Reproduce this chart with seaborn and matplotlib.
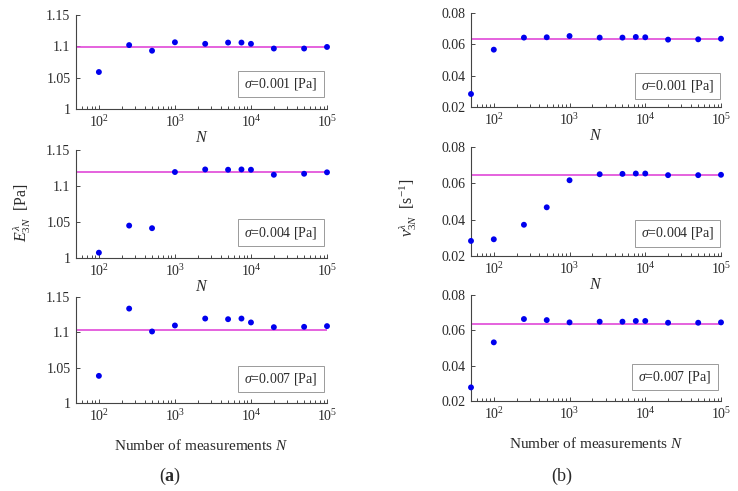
import numpy as np
import pandas as pd
import matplotlib
matplotlib.use("Agg")
import matplotlib.pyplot as plt
import seaborn as sns
from matplotlib.ticker import LogLocator, FixedLocator, NullFormatter
from matplotlib.patches import Rectangle

# ---------------- data ----------------
N_E = [100, 250, 500, 1000, 2500, 5000, 7500, 10000, 20000, 50000, 100000]
E_s001 = [1.059, 1.102, 1.093, 1.1065, 1.104, 1.106, 1.106, 1.104, 1.0965, 1.0965, 1.099]
E_s004 = [1.0074, 1.045, 1.0414, 1.1194, 1.123, 1.1226, 1.123, 1.1226, 1.1156, 1.117, 1.119]
E_s007 = [1.0384, 1.1336, 1.1012, 1.1097, 1.1195, 1.1186, 1.1195, 1.114, 1.1073, 1.1078, 1.1088]
E_ref = [1.099, 1.119, 1.1036]

N_v = [50, 100, 250, 500, 1000, 2500, 5000, 7500, 10000, 20000, 50000, 100000]
v_s001 = [0.0283, 0.0566, 0.0643, 0.0645, 0.0653, 0.0643, 0.0643, 0.0647, 0.0645, 0.0630, 0.0632, 0.0636]
v_s004 = [0.0283, 0.0292, 0.0372, 0.0468, 0.0617, 0.0650, 0.0652, 0.0654, 0.0654, 0.0645, 0.0645, 0.0647]
v_s007 = [0.0277, 0.0532, 0.0664, 0.0658, 0.0645, 0.0649, 0.0649, 0.0653, 0.0653, 0.0643, 0.0643, 0.0645]
v_ref = [0.0636, 0.0647, 0.0636]

sigmas = ["0.001", "0.004", "0.007"]
E_ticks = [1.0, 1.05, 1.1, 1.15]
E_ticklabels = ["1", "1.05", "1.1", "1.15"]
v_ticks = [0.02, 0.04, 0.06, 0.08]
v_ticklabels = ["0.02", "0.04", "0.06", "0.08"]

# ---------------- style ----------------
sns.set_style("ticks")
plt.rcParams["font.family"] = ["Liberation Serif", "DejaVu Serif"]
plt.rcParams["mathtext.fontset"] = "custom"
plt.rcParams["mathtext.rm"] = "Liberation Serif"
plt.rcParams["mathtext.it"] = "Liberation Serif:italic"
plt.rcParams["mathtext.bf"] = "Liberation Serif:bold"
TXT = "#2a2a2a"
plt.rcParams["text.color"] = TXT
plt.rcParams["axes.labelcolor"] = TXT
plt.rcParams["xtick.color"] = TXT
plt.rcParams["ytick.color"] = TXT
plt.rcParams["axes.edgecolor"] = "#444444"

W, H = 738, 491
fig = plt.figure(figsize=(W / 100, H / 100), dpi=100)

def frac(x0, x1, ytop, ybot):
    return [x0 / W, 1 - ybot / H, (x1 - x0) / W, (ybot - ytop) / H]

left_rows = [(15, 109), (150, 258), (297, 403)]
right_rows = [(13, 107), (147, 256), (295, 401)]
left_boxes = [(0.645, 0.128, 0.343, 0.276), (0.645, 0.111, 0.343, 0.25), (0.645, 0.104, 0.343, 0.245)]
right_boxes = [(0.656, 0.085, 0.34, 0.277), (0.656, 0.083, 0.34, 0.247), (0.644, 0.104, 0.344, 0.245)]

LINE_C = "#e048d8"
DOT_C = "#0000ee"

def style_axis(ax, ticks, ticklabels, ylim):
    ax.set_xscale("log")
    ax.set_xlim(50, 1e5)
    ax.set_ylim(*ylim)
    ax.set_xticks([1e2, 1e3, 1e4, 1e5])
    ax.set_xticklabels([r"$10^2$", r"$10^3$", r"$10^4$", r"$10^5$"])
    ax.xaxis.set_minor_locator(LogLocator(base=10, subs=np.arange(2, 10)))
    ax.xaxis.set_minor_formatter(NullFormatter())
    ax.yaxis.set_major_locator(FixedLocator(ticks))
    ax.set_yticklabels(ticklabels)
    ax.tick_params(axis="both", which="major", direction="in", length=3, width=0.6, labelsize=10, pad=4)
    ax.tick_params(axis="x", which="minor", direction="in", length=2, width=0.6)
    sns.despine(ax=ax)
    for sp in ["left", "bottom"]:
        ax.spines[sp].set_linewidth(0.8)

def add_box(ax, rect, sig):
    x, y, w, h = rect
    ax.add_patch(Rectangle((x, y), w, h, transform=ax.transAxes, fill=True,
                           fc="white", ec="#9a9a9a", lw=0.7, zorder=5, clip_on=False))
    ax.text(x + w / 2, y + h / 2, r"$\sigma$=" + sig + " [Pa]", transform=ax.transAxes,
            ha="center", va="center", fontsize=10, zorder=6)

E_sets = [E_s001, E_s004, E_s007]
v_sets = [v_s001, v_s004, v_s007]

for i in range(3):
    # left column
    axl = fig.add_axes(frac(76, 327, *left_rows[i]))
    axl.axhline(E_ref[i], color=LINE_C, lw=1.2, zorder=2)
    sns.scatterplot(x=N_E, y=E_sets[i], ax=axl, color=DOT_C, s=18, edgecolor="none", zorder=3, clip_on=False)
    style_axis(axl, E_ticks, E_ticklabels, (1.0, 1.15))
    add_box(axl, left_boxes[i], sigmas[i])

    # right column
    axr = fig.add_axes(frac(471, 721, *right_rows[i]))
    axr.axhline(v_ref[i], color=LINE_C, lw=1.2, zorder=2)
    sns.scatterplot(x=N_v, y=v_sets[i], ax=axr, color=DOT_C, s=18, edgecolor="none", zorder=3, clip_on=False)
    style_axis(axr, v_ticks, v_ticklabels, (0.02, 0.08))
    add_box(axr, right_boxes[i], sigmas[i])

    if i < 2:
        axl.set_xlabel(r"$N$", fontsize=11.5, labelpad=0)
        axr.set_xlabel(r"$N$", fontsize=11.5, labelpad=0)
    else:
        axl.set_xlabel(r"Number of measurements $N$", fontsize=11, labelpad=10)
        axr.set_xlabel(r"Number of measurements $N$", fontsize=11, labelpad=10)

fig.text(22 / W, 1 - 213 / H, r"$E^{\lambda}_{3N}$  [Pa]", rotation=90, ha="center", va="center", fontsize=11.5)
fig.text(408 / W, 1 - 208 / H, r"$\nu^{\lambda}_{3N}$  [s$^{-1}$]", rotation=90, ha="center", va="center", fontsize=11.5)
fig.text(170 / W, 1 - 476 / H, r"($\mathbf{a}$)", ha="center", va="center", fontsize=13)
fig.text(562 / W, 1 - 476 / H, "(b)", ha="center", va="center", fontsize=13)

fig.savefig("out.png", dpi=100)
